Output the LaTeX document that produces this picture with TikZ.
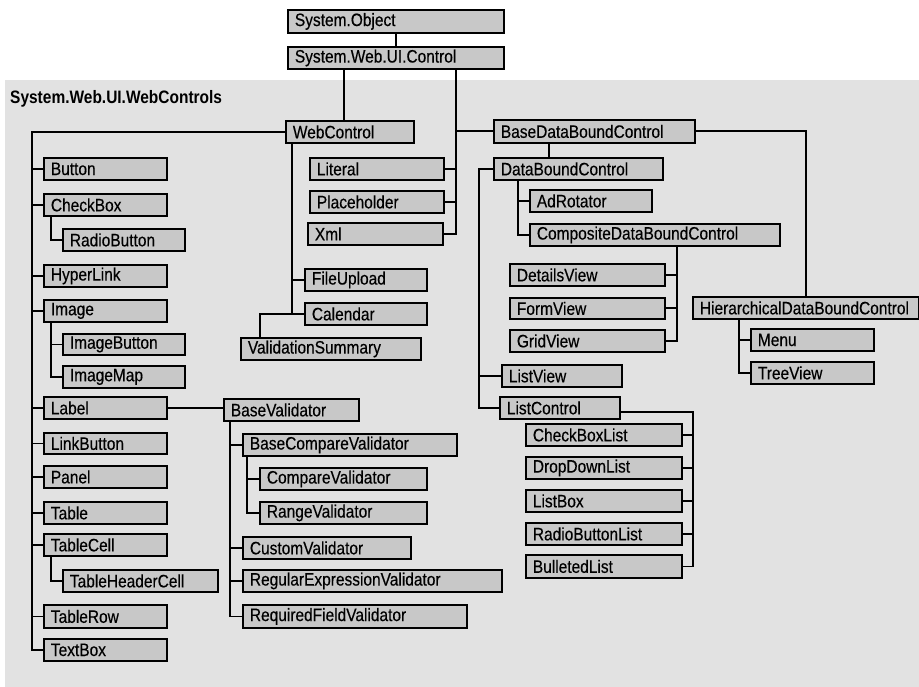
\documentclass[tikz,border=0pt]{standalone}
\usepackage{fontspec}
\setmainfont{Liberation Sans}[FakeStretch=0.86]
\newfontfamily\boxfont{Liberation Sans}[FakeStretch=0.86,FakeBold=0.35]
\definecolor{panelgray}{RGB}{226,226,226}
\definecolor{boxgray}{RGB}{200,200,200}
\tikzset{
  bx/.style={draw=black, line width=1.8pt, fill=boxgray, inner xsep=7pt, inner ysep=0pt,
    align=left, font=\boxfont\fontsize{18}{19}\selectfont},
  conn/.style={line width=1.8pt, black},
  titlelbl/.style={font=\fontsize{18}{19}\selectfont\bfseries, inner sep=0pt, anchor=west}
}
\newcommand\bx[6]{%
  \pgfmathsetmacro\bxh{#5-#3}%
  \pgfmathsetmacro\bxtw{#4-#2-14}%
  \node[bx, text width=\bxtw pt, minimum height=\bxh pt, anchor=north west] (#1) at (#2,#3) {\mbox{#6}};}
\begin{document}
\begin{tikzpicture}[x=1pt,y=-1pt]
\useasboundingbox (0,0) rectangle (919,687);
\fill[panelgray] (5,80) rectangle (919,687);
\node[titlelbl] (title) at (10,99) {System.Web.UI.WebControls};

% bus coordinates
\coordinate (xL) at (32,0);
\coordinate (xS) at (51,0);
\coordinate (xR) at (456,0);
\coordinate (xW) at (292,0);
\coordinate (xV) at (260,0);
\coordinate (xD) at (549,0);
\coordinate (xLV) at (479,0);
\coordinate (xDA) at (518,0);
\coordinate (xCV) at (677,0);
\coordinate (xHV) at (739,0);
\coordinate (xLC) at (693,0);
\coordinate (xBV) at (230,0);
\coordinate (xCP) at (247,0);
\coordinate (xWC) at (344,0);

% boxes
\bx{SysObject}{287}{9}{503}{32}{System.Object}
\bx{SysControl}{287}{46}{503}{68}{System.Web.UI.Control}
\bx{WebControl}{285}{120}{413}{142}{WebControl}
\bx{BDBC}{493}{119}{694}{142}{BaseDataBoundControl}
\bx{Button}{43}{157}{166}{179}{Button}
\bx{CheckBox}{43}{193}{166}{215}{CheckBox}
\bx{RadioButton}{62}{228}{184}{250}{RadioButton}
\bx{HyperLink}{43}{264}{166}{286}{HyperLink}
\bx{Image}{43}{299}{166}{321}{Image}
\bx{ImageButton}{62}{333}{184}{354}{ImageButton}
\bx{ImageMap}{62}{365}{184}{387}{ImageMap}
\bx{Label}{43}{396}{166}{418}{Label}
\bx{LinkButton}{43}{432}{166}{453}{LinkButton}
\bx{Panel}{43}{465}{166}{487}{Panel}
\bx{Table}{43}{501}{166}{523}{Table}
\bx{TableCell}{43}{533}{166}{555}{TableCell}
\bx{TableHeaderCell}{62}{569}{217}{591}{TableHeaderCell}
\bx{TableRow}{43}{604}{166}{627}{TableRow}
\bx{TextBox}{43}{638}{166}{660}{TextBox}
\bx{Literal}{309}{157}{443}{179}{Literal}
\bx{Placeholder}{309}{190}{443}{212}{Placeholder}
\bx{Xml}{307}{222}{442}{244}{Xml}
\bx{FileUpload}{304}{268}{426}{290}{FileUpload}
\bx{Calendar}{304}{302}{426}{324}{Calendar}
\bx{ValidationSummary}{240}{337}{420}{359}{ValidationSummary}
\bx{BaseValidator}{223}{398}{358}{420}{BaseValidator}
\bx{BCV}{242}{433}{456}{455}{BaseCompareValidator}
\bx{CompareValidator}{259}{467}{426}{489}{CompareValidator}
\bx{RangeValidator}{259}{501}{426}{523}{RangeValidator}
\bx{CustomValidator}{242}{536}{410}{558}{CustomValidator}
\bx{REV}{242}{569}{501}{591}{RegularExpressionValidator}
\bx{RFV}{242}{604}{466}{627}{RequiredFieldValidator}
\bx{DBC}{493}{157}{662}{179}{DataBoundControl}
\bx{AdRotator}{529}{189}{651}{211}{AdRotator}
\bx{CDBC}{529}{223}{779}{245}{CompositeDataBoundControl}
\bx{DetailsView}{509}{263}{664}{285}{DetailsView}
\bx{FormView}{509}{297}{664}{318}{FormView}
\bx{GridView}{509}{329}{664}{351}{GridView}
\bx{ListView}{501}{364}{621}{386}{ListView}
\bx{ListControl}{499}{396}{619}{418}{ListControl}
\bx{CheckBoxList}{525}{423}{681}{445}{CheckBoxList}
\bx{DropDownList}{525}{456}{681}{478}{DropDownList}
\bx{ListBox}{525}{489}{681}{511}{ListBox}
\bx{RadioButtonList}{525}{522}{681}{544}{RadioButtonList}
\bx{BulletedList}{525}{554}{681}{577}{BulletedList}
\bx{HDBC}{692}{296}{918}{318}{HierarchicalDataBoundControl}
\bx{Menu}{750}{328}{873}{350}{Menu}
\bx{TreeView}{750}{361}{873}{383}{TreeView}

% connectors
\begin{scope}[conn]
\draw (SysObject.south) -- (SysControl.north);
\draw (SysControl.south -| xWC) -- (WebControl.north -| xWC);
\draw (SysControl.south -| xR) -- (xR |- Xml.east) -- (Xml.east);
\draw (Literal.east) -- (Literal.east -| xR);
\draw (Placeholder.east) -- (Placeholder.east -| xR);
\draw (BDBC.west) -- (BDBC.west -| xR);
% left bus
\draw (WebControl.west) -| (xL |- TextBox.west) -- (TextBox.west);
\foreach \n in {Button,CheckBox,HyperLink,Image,Label,LinkButton,Panel,Table,TableCell,TableRow}
  \draw (\n.west) -- (\n.west -| xL);
\draw (CheckBox.south -| xS) |- (RadioButton.west);
\draw (Image.south -| xS) |- (ImageMap.west);
\draw (ImageButton.west) -- (ImageButton.west -| xS);
\draw (TableCell.south -| xS) |- (TableHeaderCell.west);
% WebControl down
\draw (WebControl.south -| xW) |- (Calendar.west);
\draw (FileUpload.west) -- (FileUpload.west -| xW);
\draw (Calendar.west -| xW) -| (xV |- ValidationSummary.north);
% validators
\draw (Label.east) -- (Label.east -| BaseValidator.west);
\draw (BaseValidator.south -| xBV) |- (RFV.west);
\foreach \n in {BCV,CustomValidator,REV}
  \draw (\n.west) -- (\n.west -| xBV);
\draw (BCV.south -| xCP) |- (RangeValidator.west);
\draw (CompareValidator.west) -- (CompareValidator.west -| xCP);
% data bound
\draw (BDBC.south -| xD) -- (DBC.north -| xD);
\draw (BDBC.east) -| (HDBC.north);
\draw (DBC.west) -| (xLV |- ListControl.west) -- (ListControl.west);
\draw (ListView.west) -- (ListView.west -| xLV);
\draw (DBC.south -| xDA) |- (CDBC.west);
\draw (AdRotator.west) -- (AdRotator.west -| xDA);
\draw (CDBC.south -| xCV) |- (GridView.east);
\draw (DetailsView.east) -- (DetailsView.east -| xCV);
\draw (FormView.east) -- (FormView.east -| xCV);
\draw (HDBC.south -| xHV) |- (TreeView.west);
\draw (Menu.west) -- (Menu.west -| xHV);
\draw ([yshift=-4pt]ListControl.east) -| (xLC |- BulletedList.east) -- (BulletedList.east);
\foreach \n in {CheckBoxList,DropDownList,ListBox,RadioButtonList}
  \draw (\n.east) -- (\n.east -| xLC);
\end{scope}
\end{tikzpicture}
\end{document}
